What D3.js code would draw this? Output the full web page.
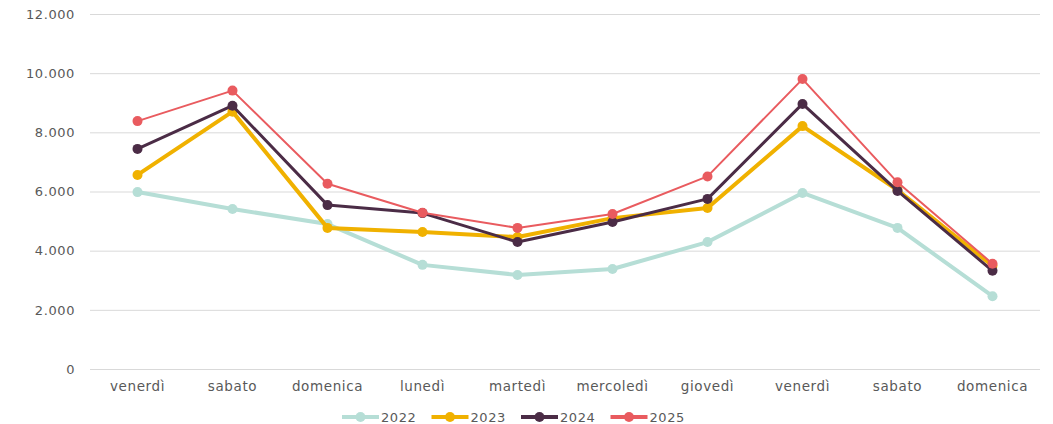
<!DOCTYPE html>
<html>
<head>
<meta charset="utf-8">
<script src="https://cdn.jsdelivr.net/npm/d3@7"></script>
<style>
  body { margin: 0; background: #fff; }
  text { font-family: "DejaVu Sans", sans-serif; fill: #595959; letter-spacing: 0.6px; }
</style>
</head>
<body>
<div id="chart"></div>
<script>
// categories (days)
var days = ["venerdì", "sabato", "domenica", "lunedì", "martedì", "mercoledì", "giovedì", "venerdì", "sabato", "domenica"];

// series values
var v2022 = [5980, 5410, 4900, 3520, 3180, 3380, 4290, 5950, 4770, 2460];
var v2023 = [6560, 8700, 4770, 4630, 4460, 5100, 5440, 8210, 6050, 3490];
var v2024 = [7440, 8900, 5540, 5270, 4290, 4970, 5750, 8960, 6020, 3320];
var v2025 = [8380, 9410, 6260, 5280, 4770, 5240, 6510, 9800, 6310, 3560];

var yTicks = [0, 2000, 4000, 6000, 8000, 10000, 12000];

var series = [
  {name: "2022", values: v2022, color: "#b6ded6", width: 4},
  {name: "2023", values: v2023, color: "#f0b100", width: 4},
  {name: "2024", values: v2024, color: "#4b2c46", width: 3},
  {name: "2025", values: v2025, color: "#e95b5f", width: 2}
];

var W = 1053, H = 424;
var margin = {top: 14, right: 13, bottom: 55, left: 90};
var width = W - margin.left - margin.right,
    height = H - margin.top - margin.bottom;

var svg = d3.select("#chart").append("svg")
    .attr("width", W)
    .attr("height", H);

var g = svg.append("g")
    .attr("transform", "translate(" + margin.left + "," + margin.top + ")");

// x uses index so repeated day names stay separate
var x = d3.scaleBand()
    .domain(d3.range(days.length))
    .range([0, width]);

var y = d3.scaleLinear()
    .domain([0, 12000])
    .range([height, 0]);

var fmt = function(d) { return d3.format(",")(d).replace(/,/g, "."); };

// gridlines + y labels
var yAxis = g.append("g")
    .call(d3.axisLeft(y).tickValues(yTicks).tickSize(-width).tickPadding(15).tickFormat(fmt));
yAxis.select(".domain").remove();
yAxis.selectAll("line").attr("stroke", "#d9d9d9").attr("stroke-width", 1);
yAxis.selectAll("text").style("font-size", "13px").attr("fill", "#595959");

// x labels
var xAxis = g.append("g")
    .attr("transform", "translate(0," + height + ")")
    .call(d3.axisBottom(x).tickSize(0).tickPadding(12).tickFormat(function(i) { return days[i]; }));
xAxis.select(".domain").remove();
xAxis.selectAll("text").style("font-size", "13.5px").attr("fill", "#595959");

var cx = function(d, i) { return x(i) + x.bandwidth() / 2; };

var line = d3.line()
    .x(cx)
    .y(function(d) { return y(d); });

series.forEach(function(s) {
  g.append("path")
      .datum(s.values)
      .attr("fill", "none")
      .attr("stroke", s.color)
      .attr("stroke-width", s.width)
      .attr("stroke-linejoin", "round")
      .attr("d", line);

  g.selectAll(null)
      .data(s.values)
    .enter().append("circle")
      .attr("cx", cx)
      .attr("cy", function(d) { return y(d); })
      .attr("r", 5)
      .attr("fill", s.color);
});

// legend
var legend = svg.append("g")
    .attr("transform", "translate(342,417)");

var item = legend.selectAll("g")
    .data(series)
  .enter().append("g")
    .attr("transform", function(d, i) { return "translate(" + (i * 89.5) + ",0)"; });

item.append("line")
    .attr("x1", 0).attr("x2", 37)
    .attr("stroke", function(d) { return d.color; })
    .attr("stroke-width", 4);

item.append("circle")
    .attr("cx", 18.5)
    .attr("r", 5)
    .attr("fill", function(d) { return d.color; });

item.append("text")
    .attr("x", 39)
    .attr("dy", "0.35em")
    .style("font-size", "13px")
    .text(function(d) { return d.name; });
</script>
</body>
</html>
